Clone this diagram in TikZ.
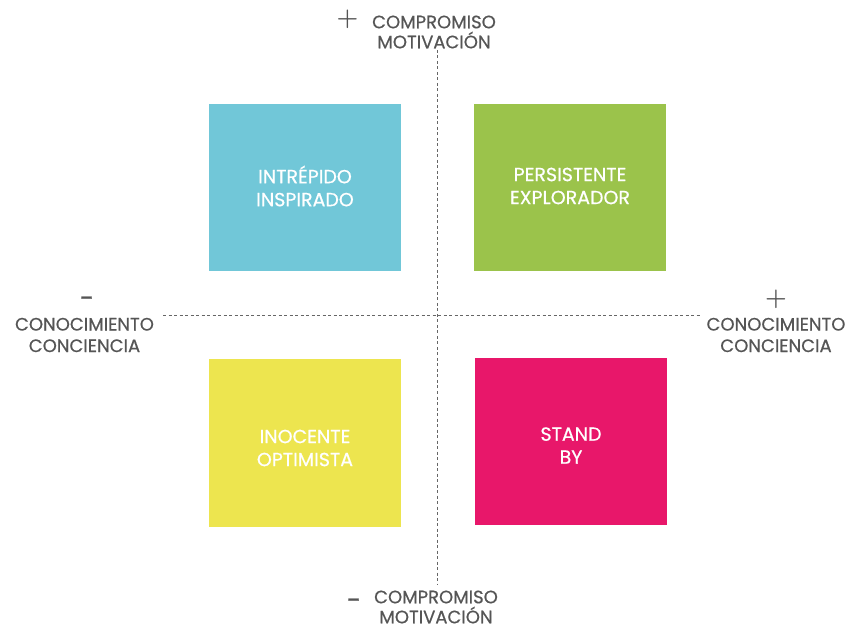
\documentclass[tikz,border=0pt]{standalone}
\usepackage{fontspec}
\setmainfont{Poppins}[FakeBold=0.6]
\definecolor{qcyan}{HTML}{71C7D8}
\definecolor{qgreen}{HTML}{9BC34B}
\definecolor{qyellow}{HTML}{EDE54F}
\definecolor{qpink}{HTML}{E8176A}
\definecolor{qgrey}{HTML}{555555}
\begin{document}
\begin{tikzpicture}[x=1pt,y=-1pt,
  quad/.style={minimum width=192pt,minimum height=167pt,inner sep=0pt},
  quadtext/.style={text=white,align=center,inner sep=0pt,font=\fontsize{19}{23}\selectfont},
  axislbl/.style={text=qgrey,align=center,font=\fontsize{18}{20}\selectfont,inner sep=0pt},
  sidelbl/.style={axislbl,font=\fontsize{18}{21.5}\selectfont},
  plus/.style={text=qgrey,font=\fontsize{25}{25}\selectfont\boldmath,inner sep=0pt},
  minus/.style={text=qgrey,font=\fontsize{26}{26}\selectfont,inner sep=0pt},
  axisline/.style={draw=qgrey!90,line width=0.9pt,dash pattern=on 3pt off 2.5pt}]
\useasboundingbox (0,0) rectangle (849,628);
\coordinate (vtop) at (437,50);
\coordinate (vbot) at (437,585);
\coordinate (hl) at (163,315);
\coordinate (hr) at (700,315);
\draw[axisline] (vtop) -- (vbot);
\draw[axisline] (hl) -- (hr);
\node[quad,fill=qcyan] (q1) at (305,187.5) {};
\node[quad,fill=qgreen] (q2) at (570,187.5) {};
\node[quad,fill=qyellow] (q3) at (305,443) {};
\node[quad,fill=qpink] (q4) at (571,441.5) {};
\node[quadtext] (t1) at ([yshift=1.5]q1.center) {INTRÉPIDO\\INSPIRADO};
\node[quadtext] (t2) at ([yshift=1.5]q2.center) {PERSISTENTE\\EXPLORADOR};
\node[quadtext] (t3) at ([yshift=-5]q3.center) {INOCENTE\\OPTIMISTA};
\node[quadtext] (t4) at ([yshift=-4]q4.center) {STAND\\BY};
\node[axislbl] (top) at (434,32) {COMPROMISO\\MOTIVACIÓN};
\node[plus] (tops) at (347.5,19) {$+$};
\node[axislbl] (bot) at (436,607) {COMPROMISO\\MOTIVACIÓN};
\node[minus] (bots) at (354,604) {-};
\node[sidelbl] (left) at (84.5,335) {CONOCIMIENTO\\CONCIENCIA};
\node[minus] (lefts) at (87,302) {-};
\node[sidelbl] (right) at (776,335) {CONOCIMIENTO\\CONCIENCIA};
\node[plus] (rights) at (776,299) {$+$};
\end{tikzpicture}
\end{document}
